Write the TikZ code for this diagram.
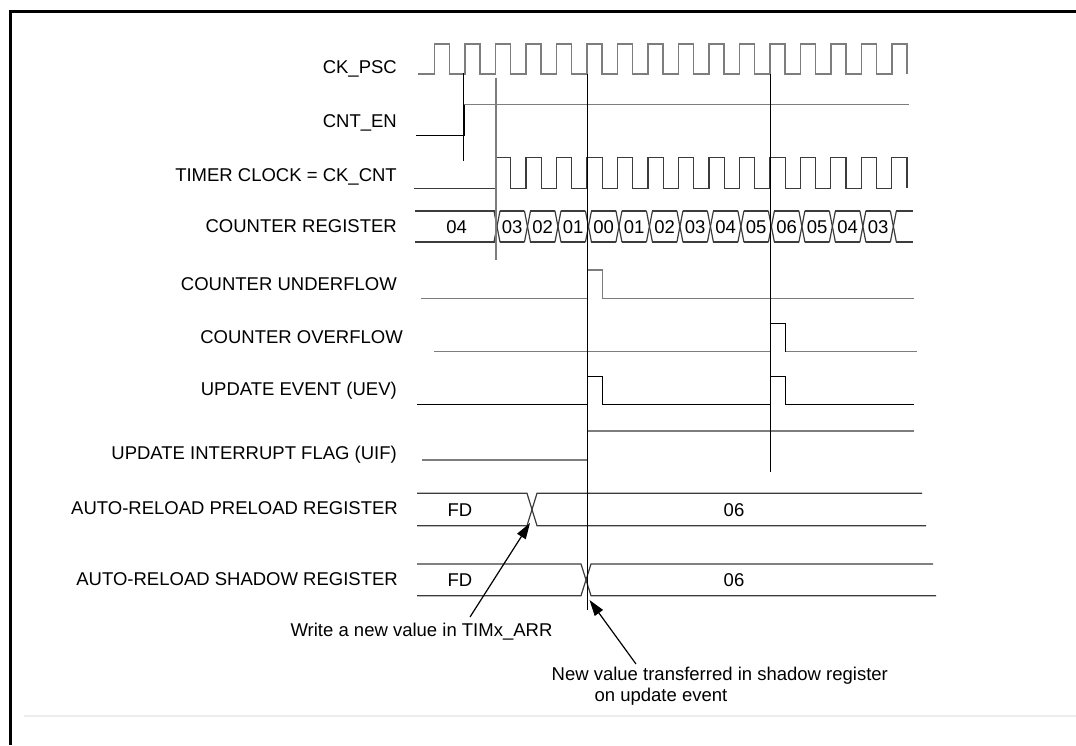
\documentclass[tikz,border=0pt]{standalone}
\usepackage{fontspec}
\setmainfont{Liberation Sans}
\usetikzlibrary{arrows.meta}
\definecolor{wgray}{RGB}{125,125,125}
\definecolor{wdark}{RGB}{60,60,60}
\definecolor{faintline}{RGB}{236,236,236}
\begin{document}
\begin{tikzpicture}[x=1pt,y=-1pt,
  lbl/.style={anchor=east, inner sep=0pt, font=\fontsize{18.5}{22}\selectfont},
  val/.style={inner sep=0pt, font=\fontsize{18.5}{22}\selectfont},
  note/.style={inner sep=0pt, font=\fontsize{18.5}{22}\selectfont},
  wg/.style={draw=wgray, line width=1.4pt},
  wd/.style={draw=wdark, line width=1.2pt},
  wb/.style={draw=black, line width=1pt},
  arr/.style={-{Triangle[length=16pt,width=10pt]}, line width=1.2pt}]
\useasboundingbox (0,0) rectangle (1076,745);

% frame
\draw[line width=2.2pt] (10.5,745) -- (10.5,11.5) -- (1076,11.5);
\draw[faintline, line width=1.2pt] (24,716) -- (1076,716);

% labels
\node[lbl] (lpsc) at (397,69) {CK\_PSC};
\node[lbl] (len) at (397,123) {CNT\_EN};
\node[lbl] (lclk) at (397,176.5) {TIMER CLOCK = CK\_CNT};
\node[lbl] (lcnt) at (397,226.5) {COUNTER REGISTER};
\node[lbl] (lund) at (397,284) {COUNTER UNDERFLOW};
\node[lbl] (lovf) at (403,337) {COUNTER OVERFLOW};
\node[lbl] (luev) at (397,391) {UPDATE EVENT (UEV)};
\node[lbl] (luif) at (397,455) {UPDATE INTERRUPT FLAG (UIF)};
\node[lbl] (lpre) at (398,508.5) {AUTO-RELOAD PRELOAD REGISTER};
\node[lbl] (lsha) at (398,579.5) {AUTO-RELOAD SHADOW REGISTER};

% CK_PSC
\draw[wg, line join=miter] (418,74) \foreach \k in {0,...,15}{
  -- ({434.5+30.49*\k},74) -- ({434.5+30.49*\k},44) -- ({449.7+30.49*\k},44) -- ({449.7+30.49*\k},74) };

% CNT_EN
\draw[wb] (416,135.3) -- (464,135.3) -- (464,104.3);
\draw[wg] (464,104.3) -- (909,104.3);

% TIMER CLOCK
\draw[wd, line join=miter] (414,188.3) \foreach \k in {2,...,15}{
  -- ({434.5+30.49*\k},188.3) -- ({434.5+30.49*\k},157.7) -- ({449.7+30.49*\k},157.7) -- ({449.7+30.49*\k},188.3) };

% COUNTER REGISTER
\draw[wd] (415,211) -- (494.5,211);
\draw[wd] (415,242) -- (494.5,242);
\foreach \k in {2,...,15}{
  \draw[wd, line cap=round] ({434.5+30.49*\k-1.5},211) -- ({434.5+30.49*\k+4.5},242);
  \draw[wd, line cap=round] ({434.5+30.49*\k-1.5},242) -- ({434.5+30.49*\k+4.5},211);
}
\foreach \k in {2,...,14}{
  \draw[wd] ({434.5+30.49*\k+4.5},211) -- ({434.5+30.49*(\k+1)-1.5},211);
  \draw[wd] ({434.5+30.49*\k+4.5},242) -- ({434.5+30.49*(\k+1)-1.5},242);
}
\draw[wd] ({434.5+30.49*15+4.5},211) -- (913,211);
\draw[wd] ({434.5+30.49*15+4.5},242) -- (913,242);
\node[val] (c0) at (456.7,227.5) {04};
\foreach \v [count=\i] in {03,02,01,00,01,02,03,04,05,06,05,04,03}{
  \node[val] (c\i) at ({434.5+30.49*(\i+1)+1.5+15.25},227.5) {\v};
}

% COUNTER UNDERFLOW
\draw[wg] (421,298.3) -- (587.5,298.3) -- (587.5,270) -- (602.5,270) -- (602.5,298.3) -- (913.8,298.3);
% COUNTER OVERFLOW
\draw[wg] (434.4,351.7) -- (770,351.7);
\draw[wb] (770,351.7) -- (770,323.3) -- (785.7,323.3) -- (785.7,351.7);
\draw[wg] (785.7,351.7) -- (916.5,351.7);
% UPDATE EVENT
\draw[wb] (417,404.3) -- (587.5,404.3) -- (587.5,376.7) -- (602.5,376.7) -- (602.5,404.3) -- (770,404.3) -- (770,376.7) -- (785.7,376.7) -- (785.7,404.3) -- (913.8,404.3);
% UIF
\draw[wg] (422.4,460) -- (587.5,460);
\draw[wg] (587.5,431) -- (914,431);

% AUTO-RELOAD PRELOAD
\draw[wd] (417,493.3) -- (527,493.3) -- (537,525.7) -- (926,525.7);
\draw[wd] (417,525.7) -- (527,525.7) -- (537,493.3) -- (922,493.3);
\node[val] (pfd) at (460,510.5) {FD};
\node[val] (p06) at (734,510.5) {06};
% AUTO-RELOAD SHADOW
\draw[wd] (417,564) -- (581,564) -- (591,595.7) -- (936,595.7);
\draw[wd] (417,595.7) -- (581,595.7) -- (591,564) -- (933,564);
\node[val] (sfd) at (460,580) {FD};
\node[val] (s06) at (734,580) {06};

% vertical markers
\coordinate (v1t) at (463.5,73);  \coordinate (v1b) at (463.5,161);
\coordinate (v2t) at (496,77.7);  \coordinate (v2b) at (496,260);
\coordinate (v3t) at (587.5,74);  \coordinate (v3b) at (587.5,610);
\coordinate (v4t) at (770,74);    \coordinate (v4b) at (770,472);
\draw[wb] (v1t) -- (v1b);
\draw[wg] (v2t) -- (v2b);
\draw[wb] (v3t) -- (v3b);
\draw[wb] (v4t) -- (v4b);

% annotations
\node[note] (t1) at (421.5,632) {Write a new value in TIMx\_ARR};
\node[note] (t2a) at (719.8,676) {New value transferred in shadow register};
\node[note] (t2b) at (661,697) {on update event};
\coordinate (a1t) at (470,617);
\coordinate (a1h) at (530,523);
\coordinate (a2t) at (636,664);
\coordinate (a2h) at (589.5,600);
\draw[arr] (a1t) -- (a1h);
\draw[arr] (a2t) -- (a2h);
\end{tikzpicture}
\end{document}
